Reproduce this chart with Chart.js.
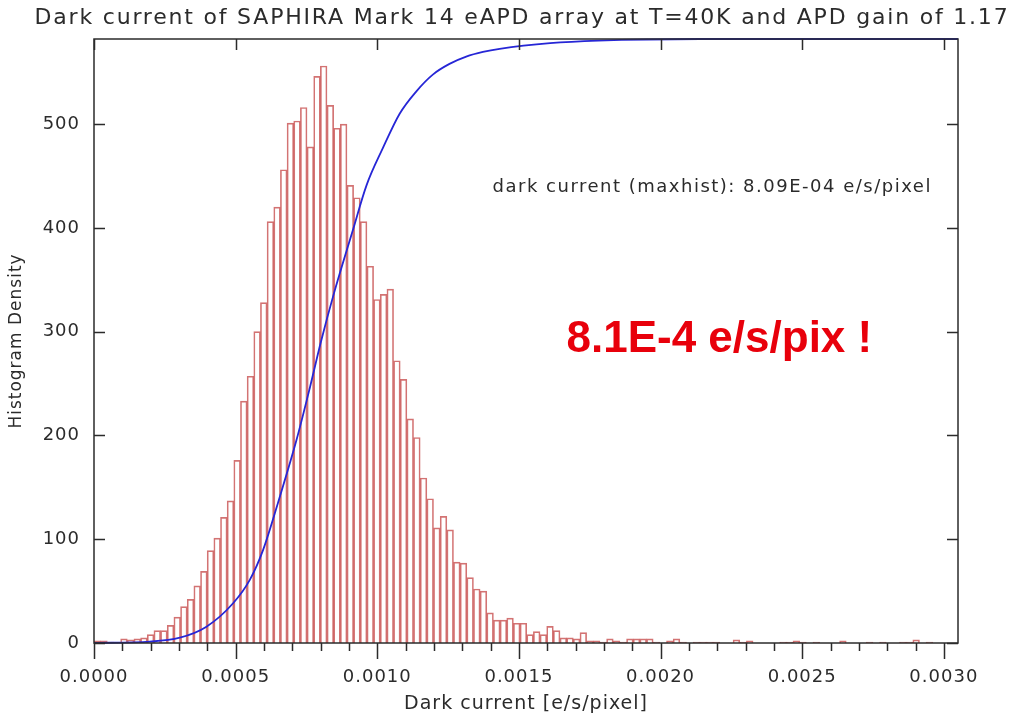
<!DOCTYPE html>
<html lang="en">
<head>
<meta charset="UTF-8">
<title>Dark current of SAPHIRA Mark 14</title>
<script src="https://cdn.jsdelivr.net/npm/chart.js"></script>
<style>
  body { margin: 0; background: #fff; }
  #wrap { width: 1016px; height: 718px; }
</style>
</head>
<body>
<div id="wrap"><canvas id="dark-chart" width="1016" height="718"></canvas></div>
<script>
// histogram: bins start at 0, width
const binWidth = 0.0000235;
const histCounts = [
  2, 2, 1, 0, 4, 3, 4, 5, 8, 12, 12, 17, 25, 35, 42, 55, 69, 89, 101, 121,
  137, 176, 233, 257, 300, 328, 406, 420, 456, 501, 503, 516, 478, 546, 556, 518, 496, 500, 441, 429,
  406, 363, 331, 336, 341, 272, 254, 216, 198, 159, 139, 111, 122, 109, 78, 77, 63, 52, 50, 29,
  22, 22, 24, 19, 19, 8, 11, 8, 16, 12, 5, 5, 4, 10, 2, 2, 1, 4, 2, 1,
  4, 4, 4, 4, 1, 0, 2, 4, 1, 0, 1, 1, 1, 1, 0, 0, 3, 1, 2, 0,
  0, 0, 0, 1, 1, 2, 1, 0, 1, 0, 0, 0, 2, 0, 0, 0, 1, 0, 1, 0,
  0, 1, 1, 3, 0, 1, 0, 0
];

// cumulative curve (blue), read point by point
const cumX = [0, 0.000197, 0.000303, 0.000397, 0.000491, 0.00055, 0.000597, 0.000656, 0.000715, 0.000762,
  0.0008, 0.000844, 0.000914, 0.000962, 0.00102, 0.001079, 0.001138, 0.001196, 0.001255, 0.001314,
  0.001373, 0.001432, 0.00161, 0.00178, 0.00214, 0.00305];
const cumY = [0, 1.3, 5.1, 15.7, 38.3, 60.8, 89.7, 141, 195.8, 246,
  289, 334, 398, 441, 477, 510, 531.6, 547.7, 558, 565,
  569.5, 572.5, 578, 580.5, 582, 582];

const xTickVals = [0, 0.0005, 0.001, 0.0015, 0.002, 0.0025, 0.003];
const xMinorVals = [0.0001, 0.0002, 0.0003, 0.0004, 0.0006, 0.0007, 0.0008, 0.0009,
  0.0011, 0.0012, 0.0013, 0.0014, 0.0016, 0.0017, 0.0018, 0.0019,
  0.0021, 0.0022, 0.0023, 0.0024, 0.0026, 0.0027, 0.0028, 0.0029];
const yTickVals = [0, 100, 200, 300, 400, 500];

const titleText = "Dark current of SAPHIRA Mark 14 eAPD array at T=40K and APD gain of 1.17";
const noteText = "dark current (maxhist): 8.09E-04 e/s/pixel";
const bigText = "8.1E-4 e/s/pix !";

const ink = "#2b2b2b";
const idlFont = "DejaVu Sans";

// the IDL vector font is wide, so spread the letters a little
const spacingPlugin = {
  id: "spacing",
  beforeLayout(chart) { chart.ctx.letterSpacing = "1px"; },
  beforeDraw(chart) { chart.ctx.letterSpacing = "1px"; }
};

const framePlugin = {
  id: "frame",
  afterDraw(chart) {
    const ctx = chart.ctx;
    const a = chart.chartArea;
    const xs = chart.scales.x, ys = chart.scales.y;
    ctx.save();
    ctx.strokeStyle = ink;
    ctx.lineWidth = 1.5;
    ctx.strokeRect(a.left, a.top, a.right - a.left, a.bottom - a.top);
    ctx.beginPath();
    // bottom ticks point outward, top ticks inward
    xTickVals.forEach(v => {
      const px = Math.round(xs.getPixelForValue(v)) + 0.5;
      ctx.moveTo(px, a.bottom); ctx.lineTo(px, a.bottom + 16);
      ctx.moveTo(px, a.top); ctx.lineTo(px, a.top + 11);
    });
    xMinorVals.forEach(v => {
      const px = Math.round(xs.getPixelForValue(v)) + 0.5;
      ctx.moveTo(px, a.bottom); ctx.lineTo(px, a.bottom + 8);
    });
    yTickVals.forEach(v => {
      const py = Math.round(ys.getPixelForValue(v)) + 0.5;
      ctx.moveTo(a.left, py); ctx.lineTo(a.left + 11, py);
      ctx.moveTo(a.right, py); ctx.lineTo(a.right - 11, py);
    });
    ctx.stroke();

    ctx.fillStyle = ink;
    ctx.textAlign = "center";
    ctx.textBaseline = "middle";
    ctx.letterSpacing = "1.8px";
    ctx.font = "22px '" + idlFont + "'";
    ctx.fillText(titleText, 522, 18);

    ctx.textAlign = "left";
    ctx.letterSpacing = "1.5px";
    ctx.font = "18px '" + idlFont + "'";
    ctx.fillText(noteText, xs.getPixelForValue(0.001407), ys.getPixelForValue(439));

    ctx.fillStyle = "#e8000b";
    ctx.letterSpacing = "0px";
    ctx.font = "bold 44px 'Liberation Sans', Arial, sans-serif";
    ctx.fillText(bigText, xs.getPixelForValue(0.001668), ys.getPixelForValue(292));
    ctx.restore();
  }
};

const ctx = document.getElementById("dark-chart").getContext("2d");
const darkChart = new Chart(ctx, {
  type: "bar",
  data: {
    datasets: [
      {
        type: "line",
        data: cumX.map((x, i) => ({ x: x, y: cumY[i] })),
        borderColor: "#2626d6",
        borderWidth: 1.8,
        pointRadius: 0,
        cubicInterpolationMode: "monotone",
        clip: 3,
        order: 0
      },
      {
        type: "bar",
        data: histCounts.map((c, i) => ({ x: (i + 0.5) * binWidth, y: c })),
        backgroundColor: "rgba(0,0,0,0)",
        borderColor: "rgba(200,80,80,0.8)",
        borderWidth: 1,
        barPercentage: 1,
        categoryPercentage: 1,
        order: 1
      }
    ]
  },
  options: {
    responsive: false,
    animation: false,
    events: [],
    layout: { padding: { top: 39, right: 58, left: 0, bottom: 0 } },
    plugins: { legend: { display: false }, tooltip: { enabled: false }, title: { display: false } },
    scales: {
      x: {
        type: "linear",
        offset: false,
        min: 0,
        max: 0.00305,
        afterBuildTicks: axis => { axis.ticks = xTickVals.map(v => ({ value: v })); },
        afterFit: axis => { axis.height = 75; },
        grid: { display: false, drawTicks: false, offset: false },
        border: { display: false },
        ticks: {
          callback: v => v.toFixed(4),
          autoSkip: false,
          maxRotation: 0,
          padding: 24,
          color: ink,
          font: { family: idlFont, size: 18 }
        },
        title: {
          display: true,
          text: "Dark current [e/s/pixel]",
          color: ink,
          font: { family: idlFont, size: 19 },
          padding: { top: 0, bottom: 3 }
        }
      },
      y: {
        min: 0,
        max: 582,
        afterBuildTicks: axis => { axis.ticks = yTickVals.map(v => ({ value: v })); },
        afterFit: axis => { axis.width = 94; },
        grid: { display: false, drawTicks: false },
        border: { display: false },
        ticks: {
          padding: 14,
          color: ink,
          font: { family: idlFont, size: 18 }
        },
        title: {
          display: true,
          text: "Histogram Density",
          color: ink,
          font: { family: idlFont, size: 17 },
          padding: { top: 6, bottom: 0 }
        }
      }
    }
  },
  plugins: [spacingPlugin, framePlugin]
});
</script>
</body>
</html>
